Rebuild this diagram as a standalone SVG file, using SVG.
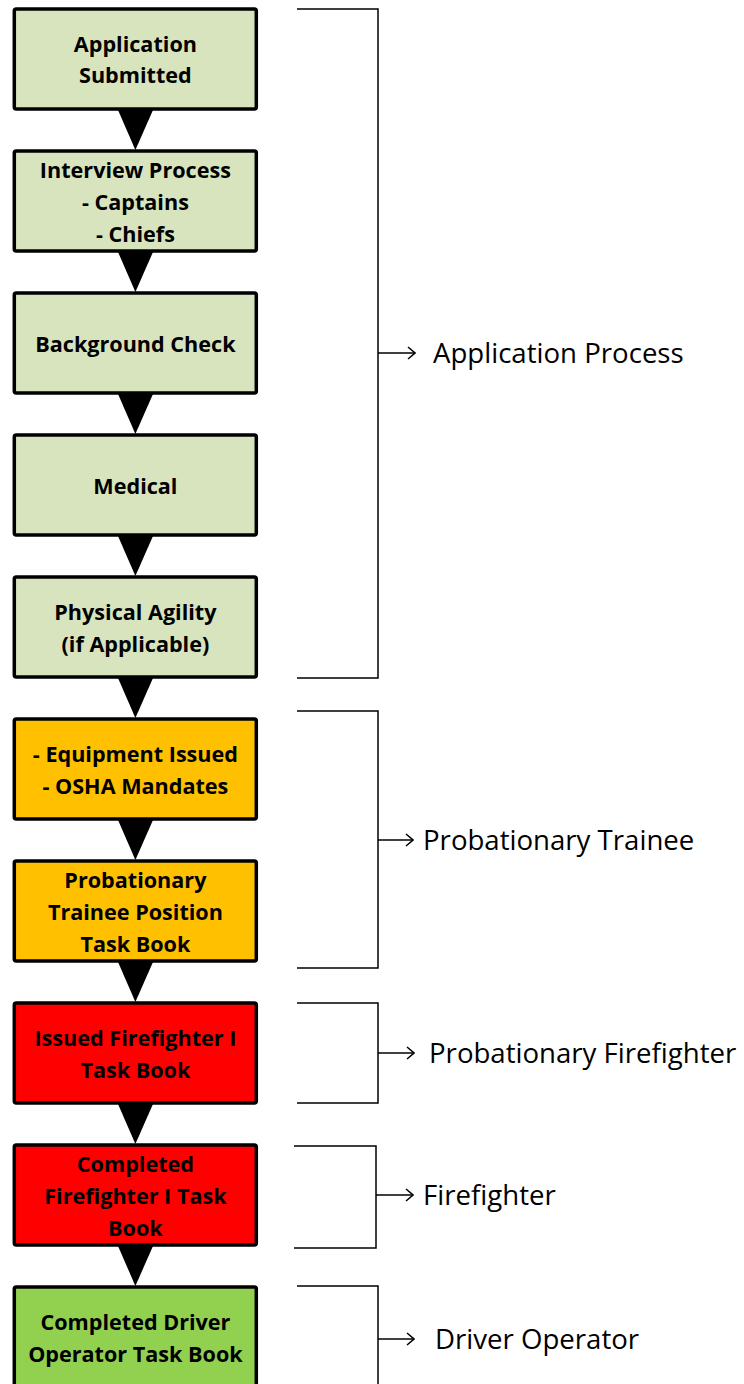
<svg xmlns="http://www.w3.org/2000/svg" width="744" height="1384" viewBox="0 0 744 1384">
<style>
.box{stroke:#000;stroke-width:3.5}
.g1{fill:#D7E4BD}.o{fill:#FFC000}.r{fill:#FF0000}.g2{fill:#92D050}
.t{font-family:"Open Sans","Liberation Sans",sans-serif;font-weight:bold;font-size:21.6px;text-anchor:middle;fill:#000}
.lab{font-family:"Open Sans","Liberation Sans",sans-serif;font-size:27.6px;fill:#000}
.br{fill:none;stroke:#000;stroke-width:1.5}
.tri{fill:#000}
</style>
<defs>
<marker id="ah" viewBox="0 0 10 14" refX="9" refY="7" markerWidth="10" markerHeight="14" markerUnits="userSpaceOnUse" orient="auto"><path d="M2,1 L9,7 L2,13" fill="none" stroke="#000" stroke-width="1.5"/></marker>
</defs>
<g id="connectors">
<polygon class="tri" points="118,110 153,110 135.4,150"/>
<polygon class="tri" points="118,252 153,252 135.4,292"/>
<polygon class="tri" points="118,394 153,394 135.4,434"/>
<polygon class="tri" points="118,536 153,536 135.4,576"/>
<polygon class="tri" points="118,678 153,678 135.4,718"/>
<polygon class="tri" points="118,820 153,820 135.4,860"/>
<polygon class="tri" points="118,962 153,962 135.4,1002"/>
<polygon class="tri" points="118,1104 153,1104 135.4,1144"/>
<polygon class="tri" points="118,1246 153,1246 135.4,1286"/>
</g>
<g id="n1"><rect class="box g1" x="14.3" y="9" width="242" height="100" rx="2"/><text class="t" x="135.4" y="51.5">Application</text><text class="t" x="135.4" y="82.5">Submitted</text></g>
<g id="n2"><rect class="box g1" x="14.3" y="151" width="242" height="100" rx="2"/><text class="t" x="135.4" y="177.5">Interview Process</text><text class="t" x="135.4" y="209.5">- Captains</text><text class="t" x="135.4" y="241.5">- Chiefs</text></g>
<g id="n3"><rect class="box g1" x="14.3" y="293" width="242" height="100" rx="2"/><text class="t" x="135.4" y="351.5">Background Check</text></g>
<g id="n4"><rect class="box g1" x="14.3" y="435" width="242" height="100" rx="2"/><text class="t" x="135.4" y="493.5">Medical</text></g>
<g id="n5"><rect class="box g1" x="14.3" y="577" width="242" height="100" rx="2"/><text class="t" x="135.4" y="619.5">Physical Agility</text><text class="t" x="135.4" y="651.5">(if Applicable)</text></g>
<g id="n6"><rect class="box o" x="14.3" y="719" width="242" height="100" rx="2"/><text class="t" x="135.4" y="761.5">- Equipment Issued</text><text class="t" x="135.4" y="793.5">- OSHA Mandates</text></g>
<g id="n7"><rect class="box o" x="14.3" y="861" width="242" height="100" rx="2"/><text class="t" x="135.4" y="887.5">Probationary</text><text class="t" x="135.4" y="919.5">Trainee Position</text><text class="t" x="135.4" y="951.5">Task Book</text></g>
<g id="n8"><rect class="box r" x="14.3" y="1003" width="242" height="100" rx="2"/><text class="t" x="135.4" y="1045.5">Issued Firefighter I</text><text class="t" x="135.4" y="1077.5">Task Book</text></g>
<g id="n9"><rect class="box r" x="14.3" y="1145" width="242" height="100" rx="2"/><text class="t" x="135.4" y="1171.5">Completed</text><text class="t" x="135.4" y="1203.5">Firefighter I Task</text><text class="t" x="135.4" y="1235.5">Book</text></g>
<g id="n10"><rect class="box g2" x="14.3" y="1287" width="242" height="120" rx="2"/><text class="t" x="135.4" y="1329.5">Completed Driver</text><text class="t" x="135.4" y="1361.5">Operator Task Book</text></g>
<g id="brackets">
<polyline class="br" points="297,9 378,9 378,678 297,678"/>
<line class="br" x1="378" y1="353" x2="415" y2="353" marker-end="url(#ah)"/>
<text class="lab" x="433" y="363">Application Process</text>
<polyline class="br" points="297,711 378,711 378,968 297,968"/>
<line class="br" x1="378" y1="840" x2="413" y2="840" marker-end="url(#ah)"/>
<text class="lab" x="423" y="850">Probationary Trainee</text>
<polyline class="br" points="297,1003 378,1003 378,1103 297,1103"/>
<line class="br" x1="378" y1="1053" x2="414" y2="1053" marker-end="url(#ah)"/>
<text class="lab" x="429" y="1063">Probationary Firefighter</text>
<polyline class="br" points="294,1146 376,1146 376,1248 294,1248"/>
<line class="br" x1="376" y1="1195" x2="413" y2="1195" marker-end="url(#ah)"/>
<text class="lab" x="423" y="1205">Firefighter</text>
<polyline class="br" points="297,1286 378,1286 378,1390"/>
<line class="br" x1="378" y1="1339" x2="414" y2="1339" marker-end="url(#ah)"/>
<text class="lab" x="435" y="1349">Driver Operator</text>
</g>
</svg>
